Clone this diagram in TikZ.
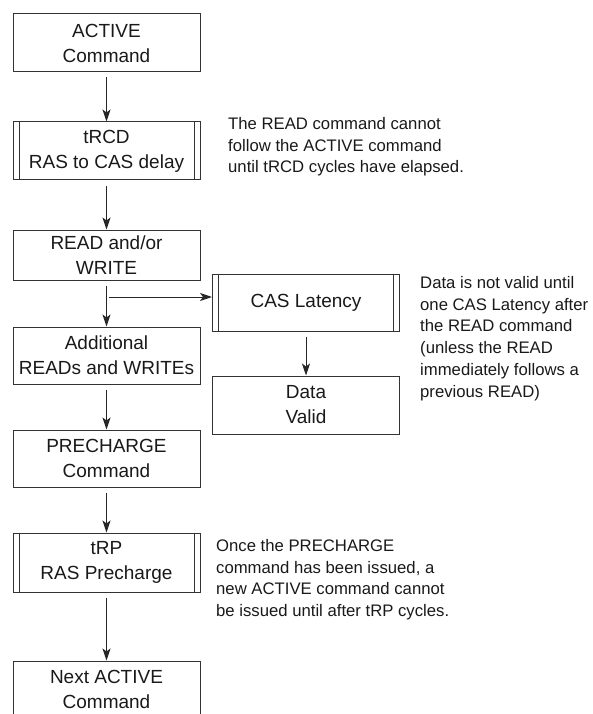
\documentclass[tikz,border=0pt]{standalone}
\usepackage{fontspec}
\setmainfont{Liberation Sans}
\usetikzlibrary{arrows.meta}

\begin{document}
\begin{tikzpicture}[x=1pt, y=-1pt,
    cmdbox/.style={draw=black!80, line width=1pt, minimum width=187pt, inner sep=0pt,
        align=center, text=black!90, font=\fontsize{19}{25}\selectfont},
    note/.style={anchor=north west, inner sep=0pt, align=left, text=black!90,
        font=\fontsize{16.7}{21.8}\selectfont},
    flow/.style={-{Stealth[length=12pt,width=8pt,inset=3pt]}, line width=1pt,
        draw=black!85, shorten <=5pt}]
    \useasboundingbox (0,0) rectangle (592,714);
    \clip (0,0) rectangle (592,714);

    % Draw command column
    \node[cmdbox, minimum height=58pt] (active) at (106.5,43) {ACTIVE\\Command};
    \node[cmdbox, minimum height=58pt] (trcd) at (106.5,151) {tRCD\\RAS to CAS delay};
    \node[cmdbox, minimum height=50pt] (readwrite) at (106.5,255) {READ and/or\\WRITE};
    \node[cmdbox, minimum height=57pt] (addl) at (106.5,355.5) {Additional\\READs and WRITEs};
    \node[cmdbox, minimum height=57pt] (precharge) at (106.5,458.5) {PRECHARGE\\Command};
    \node[cmdbox, minimum height=59pt] (trp) at (106.5,562.5) {tRP\\RAS Precharge};
    \node[cmdbox, minimum height=56pt] (nextactive) at (106.5,689) {Next ACTIVE\\Command};

    % Draw latency branch
    \node[cmdbox, minimum height=57pt] (cas) at (306,302.5) {CAS Latency};
    \node[cmdbox, minimum height=58pt] (datavalid) at (306,405) {Data\\Valid};

    % Double edges of the delay boxes
    \foreach \n in {trcd,cas,trp}{
        \draw[line width=1pt, black!80]
            ([xshift=6.5pt]\n.north west) -- ([xshift=6.5pt]\n.south west)
            ([xshift=-6.5pt]\n.north east) -- ([xshift=-6.5pt]\n.south east);
    }

    % Connectors
    \draw[flow] (active) -- (trcd);
    \draw[flow] (trcd) -- (readwrite);
    \draw[flow] (readwrite) -- (addl);
    \draw[flow] (addl) -- (precharge);
    \draw[flow] (precharge) -- (trp);
    \draw[flow] (trp) -- (nextactive);
    \draw[flow] (cas) -- (datavalid);
    \coordinate (branch) at (109,297);
    \draw[flow, shorten <=0pt] (branch) -- (branch -| cas.west);

    % Notes
    \node[note] (notetrcd) at (228,117) {The READ command cannot\\follow the ACTIVE command\\until tRCD cycles have elapsed.};
    \node[note] (notecas) at (420,276) {Data is not valid until\\one CAS Latency after\\the READ command\\(unless the READ\\immediately follows a\\previous READ)};
    \node[note] (notetrp) at (216,539) {Once the PRECHARGE\\command has been issued, a\\new ACTIVE command cannot\\be issued until after tRP cycles.};
\end{tikzpicture}
\end{document}
